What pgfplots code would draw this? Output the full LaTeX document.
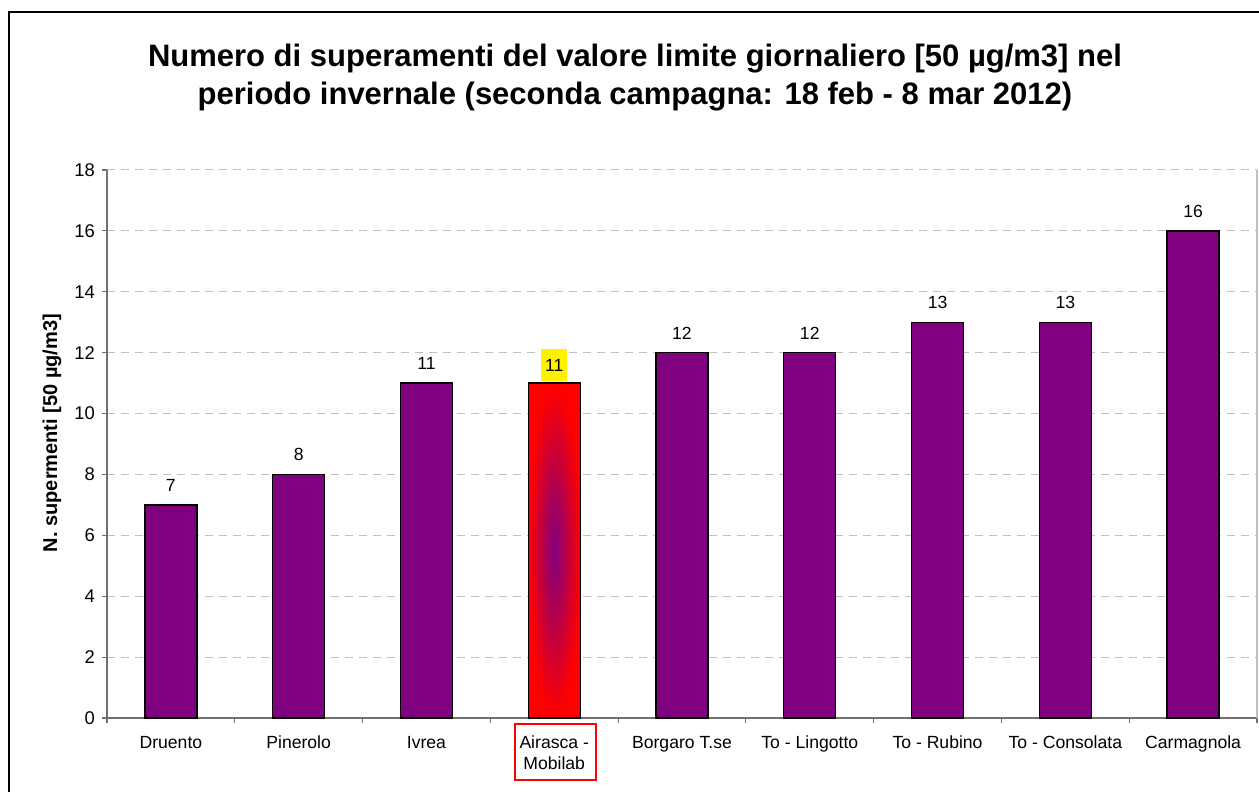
\documentclass[border=0pt]{standalone}
\usepackage{pgfplots}
\pgfplotsset{compat=1.18}
\usepackage{fontspec}
\setmainfont{Liberation Sans}
\definecolor{barpurple}{HTML}{800080}
\definecolor{gridgray}{HTML}{C0C0C0}
\definecolor{axisgray}{HTML}{707070}
\begin{document}
\begin{tikzpicture}[x=0.5pt,y=0.5pt]
\useasboundingbox (-107,-74) rectangle (1152,718);
\begin{axis}[
  at={(0,0)}, anchor=south west,
  scale only axis,
  width=575pt, height=274pt,
  xmin=-0.5, xmax=8.5, ymin=0, ymax=18,
  ytick={0,2,...,18},
  xtick={0,...,8},
  xticklabels={Druento,Pinerolo,Ivrea,{Airasca -\\Mobilab},Borgaro T.se,To - Lingotto,To - Rubino,To - Consolata,Carmagnola},
  xticklabel style={align=center, font=\fontsize{8.8}{10.5}\selectfont, yshift=-3pt},
  yticklabel style={font=\fontsize{9.2}{10}\selectfont},
  /pgf/number format/assume math mode=true,
  minor xtick={-0.5,0.5,...,8.5},
  major x tick style={draw=none},
  minor x tick style={axisgray, line width=0.6pt},
  minor tick length=2.5pt,
  major tick length=2.5pt,
  y tick style={axisgray, line width=0.6pt},
  tick align=outside,
  axis x line*=bottom, axis y line*=left,
  axis line style={axisgray, line width=0.6pt},
  ymajorgrids,
  grid style={gridgray, dash pattern=on 4pt off 3pt, line width=0.5pt},
  ylabel={\bfseries N. supermenti [50 µg/m3]},
  ylabel style={font=\fontsize{9}{11}\selectfont},
  every axis y label/.style={at={(rel axis cs:0,0.52)}, xshift=-27.5pt, rotate=90, anchor=center},
  ybar, bar width=26pt,
  nodes near coords,
  every node near coord/.append style={font=\fontsize{8.8}{10}\selectfont, /pgf/number format/assume math mode=true, yshift=3pt},
  clip=false,
]
\addplot[bar shift=0pt, fill=barpurple, draw=black, line width=0.7pt] coordinates {
 (0,7) (1,8) (2,11) (4,12) (5,12) (6,13) (7,13) (8,16)};
\addplot[bar shift=0pt, inner color=barpurple, outer color=red, draw=black, line width=0.7pt,
  every node near coord/.append style={fill=yellow, inner xsep=2pt, inner ysep=5pt, yshift=-2.5pt}] coordinates {(3,11)};
\draw[gridgray, line width=0.6pt] (rel axis cs:1,0) -- (rel axis cs:1,1);
\end{axis}
\draw[red, line width=0.9pt] (408,-6) rectangle (489,-62);
\node[anchor=base, font=\fontsize{15.5}{18}\selectfont\bfseries] at (528,651) {Numero di superamenti del valore limite giornaliero [50 µg/m3] nel};
\node[anchor=base, font=\fontsize{15.5}{18}\selectfont\bfseries] at (528,613) {periodo invernale (seconda campagna: 18 feb - 8 mar 2012)};
\draw[black, line width=0.6pt] (-98,-200) -- (-98,706) -- (1300,706);
\end{tikzpicture}
\end{document}
